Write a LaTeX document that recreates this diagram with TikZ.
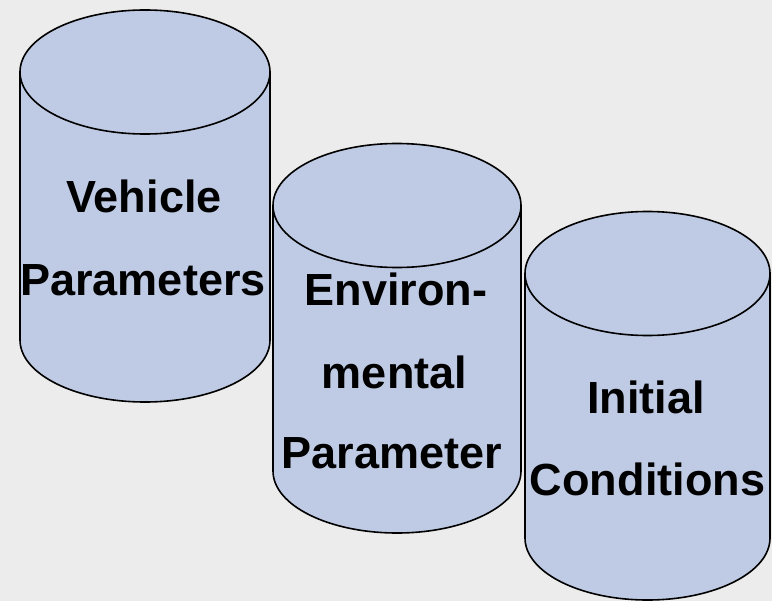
\documentclass[tikz,border=0pt]{standalone}
\usepackage{fontspec}
\setmainfont{Liberation Sans}
\definecolor{bg}{HTML}{ECECEC}
\definecolor{cylfill}{HTML}{BFCBE4}
\tikzset{
  cylbody/.style={fill=cylfill, draw=black, line width=1.6bp},
  lbl/.style={font=\fontsize{45.2}{50}\selectfont\bfseries, anchor=base, inner sep=0pt, text=black}
}
\begin{document}
\begin{tikzpicture}[x=1bp,y=-1bp]
\fill[bg] (0,0) rectangle (772,601);
\useasboundingbox (0,0) rectangle (772,601);
% cylinder 1
\draw[cylbody] (20,72) -- (20,340) arc[start angle=180,end angle=360,x radius=125bp,y radius=62bp] -- (270,72);
\draw[cylbody] (145,72) ellipse [x radius=125bp, y radius=62bp];
% cylinder 2
\draw[cylbody] (273,205.5) -- (273,471) arc[start angle=180,end angle=360,x radius=124bp,y radius=62bp] -- (521,205.5);
\draw[cylbody] (397,205.5) ellipse [x radius=124bp, y radius=62bp];
% cylinder 3
\draw[cylbody] (525,273.5) -- (525,538) arc[start angle=180,end angle=360,x radius=122.5bp,y radius=62bp] -- (770,273.5);
\draw[cylbody] (647.5,273.5) ellipse [x radius=122.5bp, y radius=62bp];
% labels
\node[lbl] (v1) at (144,213) {Vehicle};
\node[lbl] (v2) at (143,295) {Parameters};
\node[lbl] (e1) at (396,305) {Environ-};
\node[lbl] (e2) at (394.5,388) {mental};
\node[lbl] (e3) at (392,468) {Parameter};
\node[lbl] (i1) at (646,413) {Initial};
\node[lbl] (i2) at (647.5,495) {Conditions};
\end{tikzpicture}
\end{document}
